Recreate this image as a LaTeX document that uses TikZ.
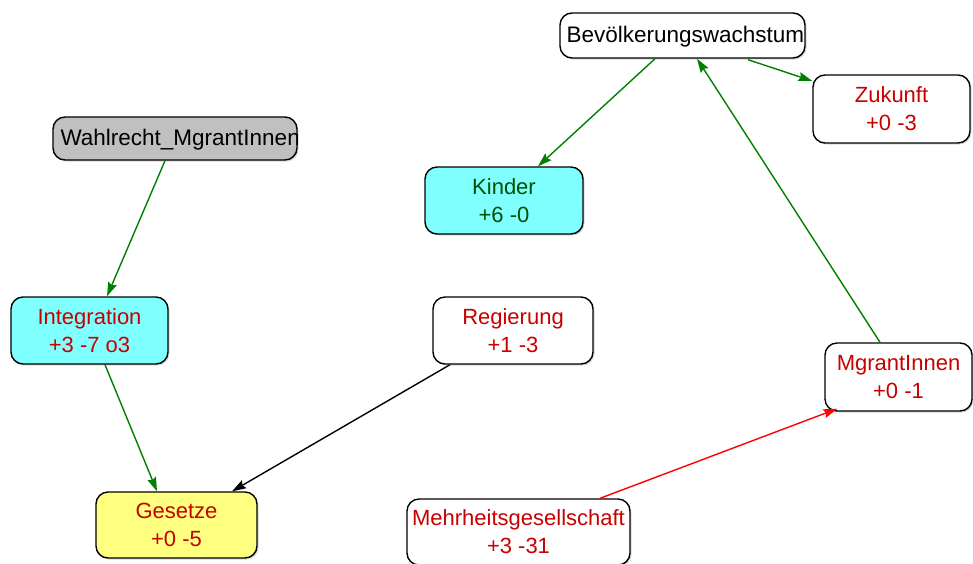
\documentclass[tikz,border=0pt]{standalone}
\usepackage{fontspec}
\setmainfont{Liberation Sans}
\usetikzlibrary{arrows.meta,shadows}

\definecolor{nodered}{RGB}{200,0,0}
\definecolor{nodegreen}{RGB}{0,80,0}
\definecolor{edgegreen}{RGB}{0,128,0}
\definecolor{edgered}{RGB}{255,0,0}
\definecolor{fillcyan}{RGB}{128,255,255}
\definecolor{fillyellow}{RGB}{255,255,128}
\definecolor{fillgray}{RGB}{192,192,192}

\tikzset{
  box/.style={draw=black, line width=1.4pt, rounded corners=12pt, fill=white,
    align=center, inner sep=0pt,
    font=\fontsize{22}{28}\selectfont,
    drop shadow={shadow xshift=1.5pt, shadow yshift=-1.5pt, fill=black!25, opacity=0.6}},
  boxlabel/.style={inner sep=0pt, font=\fontsize{22.5}{28}\selectfont},
  link/.style={line width=1.4pt, -{Stealth[length=14pt,width=9pt,inset=2pt]}},
}

\begin{document}
\begin{tikzpicture}[x=1pt,y=-1pt]
\useasboundingbox (0,0) rectangle (973,563);

% top node with its label clipped to the frame
\node[box, minimum width=245pt, minimum height=45pt] (bev) at (682.5,35.5) {};
\begin{scope}
  \clip[rounded corners=12pt] (bev.south west) rectangle (bev.north east);
  \node[boxlabel, anchor=west] (bevtext) at ([xshift=7pt,yshift=-1pt]bev.west) {Bevölkerungswachstum};
\end{scope}

\node[box, fill=fillgray, minimum width=244pt, minimum height=43pt] (wahl) at (175,138.5) {};
\begin{scope}
  \clip[rounded corners=12pt] (wahl.south west) rectangle (wahl.north east);
  \node[boxlabel, anchor=west] (wahltext) at ([xshift=8pt,yshift=-1pt]wahl.west) {Wahlrecht\_MgrantInnen};
\end{scope}

\node[box, fill=fillcyan, text=nodegreen, minimum width=158pt, minimum height=67pt] (kinder) at (504,200.5) {Kinder\\+6 -0};
\node[box, fill=fillcyan, text=nodered, minimum width=157pt, minimum height=67pt] (integ) at (89.5,330.5) {Integration\\+3 -7 o3};
\node[box, text=nodered, minimum width=160pt, minimum height=67pt] (reg) at (513,330.5) {Regierung\\+1 -3};
\node[box, fill=fillyellow, text=nodered, minimum width=161pt, minimum height=66pt] (ges) at (176.5,525) {Gesetze\\+0 -5};
\node[box, text=nodered, minimum width=223pt, minimum height=66pt] (mehr) at (518.5,532) {Mehrheitsgesellschaft\\+3 -31};
\node[box, text=nodered, minimum width=147pt, minimum height=68pt] (mig) at (898.5,377) {MgrantInnen\\+0 -1};
\node[box, text=nodered, minimum width=157pt, minimum height=68pt] (zuk) at (891.5,109) {Zukunft\\+0 -3};

% connectors
\draw[link, edgegreen] ([xshift=-27.5pt]bev.south) -- ([xshift=34pt]kinder.north);
\draw[link, edgegreen] ([xshift=65.5pt,yshift=-1pt]bev.south) -- ([yshift=28pt]zuk.west);
\draw[link, edgegreen] ([xshift=-18.5pt]mig.north) -- ([xshift=14.5pt]bev.south);
\draw[link, edgegreen] ([xshift=-10pt]wahl.south) -- ([xshift=17.5pt]integ.north);
\draw[link, edgegreen] ([xshift=15.5pt]integ.south) -- ([xshift=-19.5pt]ges.north);
\draw[link, black] ([xshift=-63pt]reg.south) -- ([xshift=55.5pt]ges.north);
\draw[link, edgered] ([xshift=81.5pt]mehr.north) -- ([xshift=13pt,yshift=3pt]mig.south west);
\end{tikzpicture}
\end{document}
